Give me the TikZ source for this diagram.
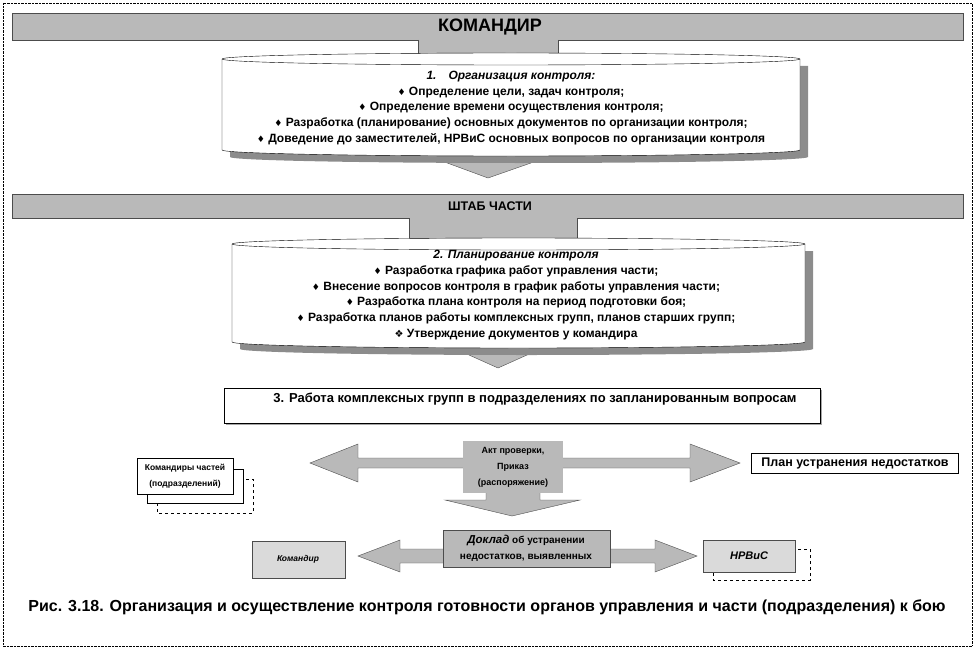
\documentclass[tikz,border=0pt]{standalone}
\usepackage{fontspec}
\setmainfont{Liberation Sans}
\newfontfamily\symfont{DejaVu Sans}
\usetikzlibrary{positioning}

\definecolor{bandgray}{RGB}{185,185,185}
\definecolor{shadegray}{RGB}{140,140,140}
\definecolor{lightgray}{RGB}{218,218,218}

\newcommand{\bul}{{\symfont\fontsize{9}{9}\selectfont ♦}\ }
\newcommand{\bulx}{{\symfont\fontsize{10}{10}\selectfont ❖}\ }

% scroll: x1, x2, top, bottom
\newcommand{\scrollshape}[4]{%
  \pgfmathsetmacro{\scrx}{(#2-#1)/2}
  \fill[shadegray] (#1+8,#3+7) -- (#1+8,#4+7) arc[start angle=180,end angle=0,x radius=\scrx,y radius=6] -- (#2+8,#3+7) -- cycle;
  \draw[fill=white] (#1,#3) -- (#1,#4) arc[start angle=180,end angle=0,x radius=\scrx,y radius=6] -- (#2,#3) arc[start angle=0,end angle=-180,x radius=\scrx,y radius=6] -- cycle;
  \draw (#1,#3) arc[start angle=180,end angle=0,x radius=\scrx,y radius=6];
}

\begin{document}
\begin{tikzpicture}[x=1pt,y=-1pt,
    band/.style={draw=black!70, fill=bandgray},
    tab/.style={fill=bandgray},
    body/.style={font=\fontsize{12}{15.8}\selectfont\bfseries, align=center},
    small/.style={font=\fontsize{8.5}{16}\selectfont\bfseries, align=center},
    arrowshape/.style={draw=black!70, fill=bandgray}]
    \useasboundingbox (0,0) rectangle (976,650);
    \draw[densely dotted] (3,3) rectangle (972,646);

    % Commander band
    \draw[band] (12,13) rectangle (963,40);
    \node[font=\fontsize{18}{18}\selectfont\bfseries] (cmd) at (490,27) {КОМАНДИР};
    \fill[tab] (418,40) rectangle (558,56);
    \draw[black!70] (418,40) -- (418,56) (558,40) -- (558,56);

    % Scroll 1
    \draw[arrowshape] (412,150) -- (488,178) -- (568,150) -- cycle;
    \scrollshape{222}{800}{59}{150}
    \node[body] (org) at (511,108) {\textit{1.\quad Организация контроля:}\\
        \bul Определение цели, задач контроля;\\
        \bul Определение времени осуществления контроля;\\
        \bul Разработка (планирование) основных документов по организации контроля;\\
        \bul Доведение до заместителей, НРВиС основных вопросов по организации контроля};

    % Staff band
    \draw[band] (12,194) rectangle (963,218);
    \node[font=\fontsize{12.5}{12.5}\selectfont\bfseries] (staff) at (490,206) {ШТАБ ЧАСТИ};
    \fill[tab] (409,218) rectangle (577,239);
    \draw[black!70] (409,218) -- (409,239) (577,218) -- (577,239);

    % Scroll 2
    \draw[arrowshape] (440,342) -- (498,368) -- (556,342) -- cycle;
    \scrollshape{232}{805}{244}{342}
    \node[body] (plan) at (516,295) {\textit{2. Планирование контроля}\\
        \bul Разработка графика работ управления части;\\
        \bul Внесение вопросов контроля в график работы управления части;\\
        \bul Разработка плана контроля на период подготовки боя;\\
        \bul Разработка планов работы комплексных групп, планов старших групп;\\
        \bulx Утверждение документов у командира};

    % Box 3
    \fill[black!35] (226,390) rectangle (822,425);
    \draw[fill=white] (224,388) rectangle (820,423);
    \node[body, font=\fontsize{13}{13}\selectfont\bfseries] (work) at (535,399) {3. Работа комплексных групп в подразделениях по запланированным вопросам};

    % Row 4
    \draw[arrowshape] (310,463) -- (358,444) -- (358,458) -- (690,458) -- (690,444) -- (740,463)
        -- (690,482) -- (690,468) -- (358,468) -- (358,482) -- cycle;
    \draw[arrowshape] (486,492) -- (486,500) -- (445,500) -- (512,516) -- (580,500) -- (540,500) -- (540,492);
    \fill[bandgray] (463,441) rectangle (563,493);
    \node[small, font=\fontsize{9}{16}\selectfont\bfseries] (act) at (513,467) {Акт проверки,\\Приказ\\(распоряжение)};

    \draw[dashed, fill=white] (157,479) rectangle (253,513);
    \draw[fill=white] (147,469) rectangle (243,503);
    \draw[fill=white] (137,458) rectangle (233,494);
    \node[small] (chiefs) at (185,476) {Командиры частей\\(подразделений)};

    \draw[fill=white] (751,453) rectangle (958,473);
    \node[font=\fontsize{12.5}{12.5}\selectfont\bfseries] (fix) at (855,463) {План устранения недостатков};

    % Row 5
    \draw[arrowshape] (358,556) -- (400,540) -- (400,549) -- (655,549) -- (655,540) -- (697,556)
        -- (655,572) -- (655,563) -- (400,563) -- (400,572) -- cycle;
    \draw[fill=lightgray, draw=black!70] (252,541) rectangle (345,578);
    \node[font=\fontsize{8.5}{8.5}\selectfont\bfseries\itshape] (boss) at (298,559) {Командир};
    \draw[arrowshape] (443,530) rectangle (610,567);
    \node[small, font=\fontsize{10}{16}\selectfont\bfseries] (report) at (526,548)
        {{\fontsize{11.5}{11.5}\selectfont\itshape Доклад} об устранении\\недостатков, выявленных};
    \draw[dashed, fill=white] (713,549) rectangle (810,580);
    \draw[fill=lightgray, draw=black!70] (703,540) rectangle (795,572);
    \node[font=\fontsize{11}{11}\selectfont\bfseries\itshape] (nrvis) at (749,556) {НРВиС};

    % Caption
    \node[font=\fontsize{16}{16}\selectfont\bfseries] (caption) at (487,607)
        {Рис. 3.18. Организация и осуществление контроля готовности органов управления и части (подразделения) к бою};
\end{tikzpicture}
\end{document}
